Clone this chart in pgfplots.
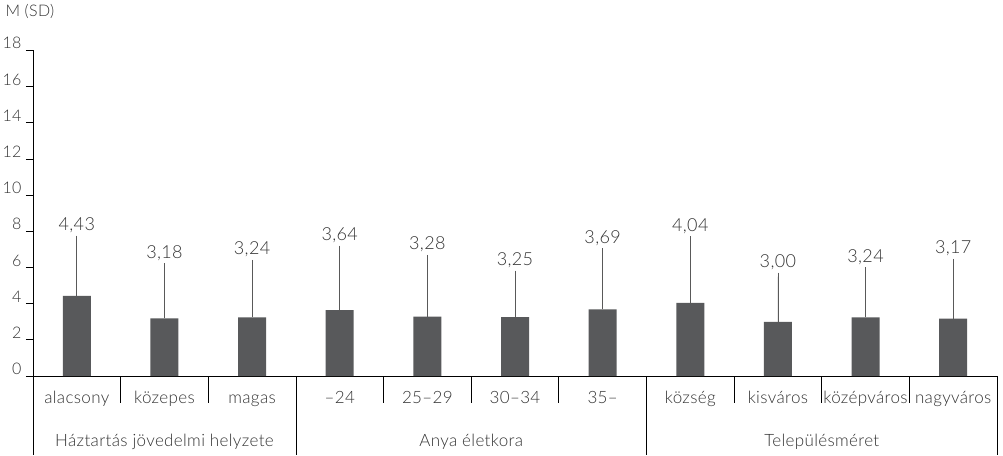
\documentclass[border=0pt]{standalone}
\usepackage{pgfplots}
\pgfplotsset{compat=1.18}
\usepackage{pgfplotstable}
\usepackage{fontspec}
\setmainfont{Lato Light}[LetterSpace=2]
\definecolor{barc}{HTML}{58595B}
\definecolor{txt}{HTML}{333333}
\pgfplotstableread{
x m sd top lbl
0 4.43 3.11 7.54 4,43
1 3.18 2.84 6.02 3,18
2 3.24 2.96 6.20 3,24
3 3.64 3.35 6.99 3,64
4 3.28 3.20 6.48 3,28
5 3.25 2.35 5.60 3,25
6 3.69 3.15 6.84 3,69
7 4.04 3.48 7.52 4,04
8 3.00 2.49 5.49 3,00
9 3.24 2.56 5.80 3,24
10 3.17 3.09 6.26 3,17
}\data
\begin{document}
\begin{tikzpicture}[font=\fontsize{17}{19}\selectfont]
\begin{axis}[
  at={(0,0)}, anchor=south west,
  scale only axis, width=964pt, height=325.5pt,
  xmin=-0.5, xmax=10.5, ymin=0, ymax=18,
  axis x line=bottom, axis y line=left,
  axis line style={-, line width=0.8pt, black},
  ytick={0,2,...,18}, ytick align=outside,
  y tick style={black, line width=0.7pt},
  major tick length=7pt,
  xtick={0,...,10},
  xticklabels={alacsony,közepes,magas,–24,25–29,30–34,35–,község,kisváros,középváros,nagyváros},
  x tick style={draw=none},
  xticklabel style={anchor=base, yshift=-24pt, text=txt, font=\fontsize{17}{19}\selectfont},
  yticklabel style={anchor=base east, yshift=1.5pt, xshift=-1pt, text=txt, font=\fontsize{16}{18}\selectfont},
  /pgf/number format/assume math mode=true,
  clip=false,
]
\addplot[ybar, bar width=28pt, fill=barc, draw=none,
  error bars/.cd, y dir=plus, y explicit,
  error bar style={line width=0.8pt, color=black!65},
  error mark options={line width=0.8pt, color=black!65, mark size=4pt}]
  table[x=x, y=m, y error=sd]{\data};
\addplot[draw=none, mark=none, nodes near coords, point meta=explicit symbolic,
  every node near coord/.append style={anchor=base, yshift=9pt, text=txt, font=\fontsize{18}{20}\selectfont}]
  table[x=x, y=top, meta=lbl]{\data};
\pgfplotsinvokeforeach{0.5,1.5,3.5,4.5,5.5,7.5,8.5,9.5}{
  \draw[line width=0.8pt, black] (axis cs:#1,0) -- ++(0pt,-27pt);
}
\pgfplotsinvokeforeach{-0.5,2.5,6.5,10.5}{
  \draw[line width=0.8pt, black] (axis cs:#1,0) -- ++(0pt,-79pt);
}
\node[anchor=base, text=txt] at (axis cs:1,0) [yshift=-70pt] {Háztartás jövedelmi helyzete};
\node[anchor=base, text=txt] at (axis cs:4.5,0) [yshift=-70pt] {Anya életkora};
\node[anchor=base, text=txt] at (axis cs:8.5,0) [yshift=-70pt] {Településméret};
\end{axis}
\node[anchor=base west, text=txt, font=\fontsize{16}{18}\selectfont] at (-31pt,359pt) {M (SD)};
\pgfresetboundingbox
\path (-33pt,-79pt) rectangle (970pt,376pt);
\end{tikzpicture}
\end{document}
